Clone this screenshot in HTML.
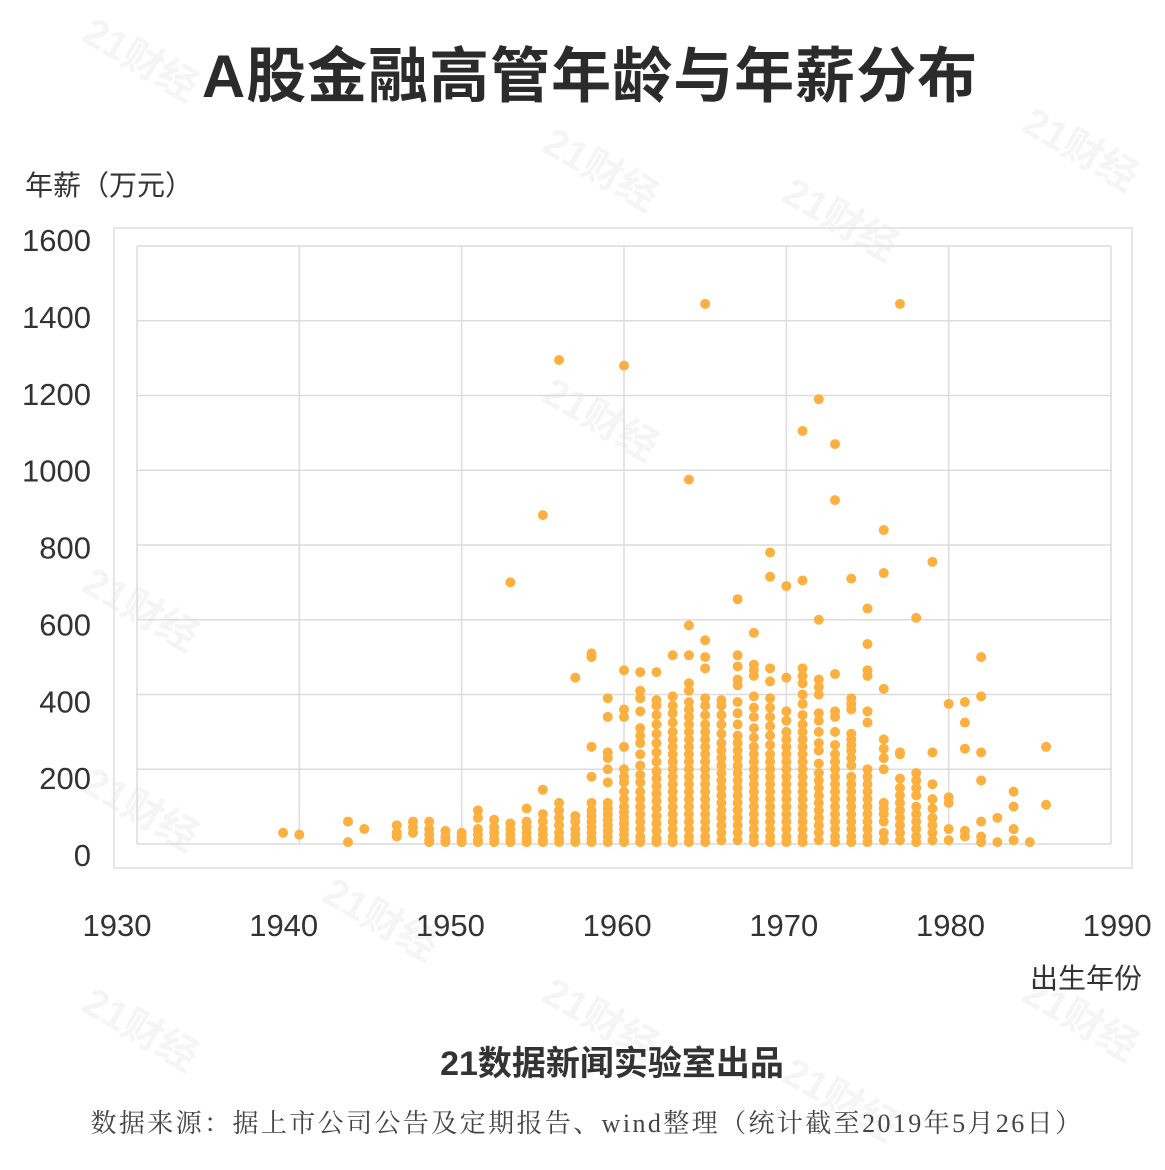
<!DOCTYPE html>
<html><head><meta charset="utf-8"><style>
html,body{margin:0;padding:0;background:#fff;}
svg{display:block;font-family:"Liberation Sans","Noto Sans CJK SC",sans-serif;}
</style></head><body>
<svg id="chart" width="1165" height="1170" viewBox="0 0 1165 1170">
<g id="wm" fill="#000" fill-opacity="0.04" font-size="40" font-weight="bold"></g>
<text x="590" y="97" text-anchor="middle" font-size="60" font-weight="bold" fill="#2b2b2b" letter-spacing="1">A股金融高管年龄与年薪分布</text>
<text x="25" y="195" font-size="28" fill="#333">年薪（万元）</text>
<rect x="114" y="228" width="1018" height="640" fill="none" stroke="#e6e6e6" stroke-width="2"/>
<g id="grid"></g>
<g id="ylabels"></g>
<g id="xlabels"></g>
<g id="dots"></g>
<text x="1142" y="988" text-anchor="end" font-size="28" fill="#333">出生年份</text>
<text x="612" y="1075" text-anchor="middle" font-size="34" font-weight="bold" fill="#333">21数据新闻实验室出品</text>
<text x="587" y="1132" text-anchor="middle" font-size="26" letter-spacing="2.4" fill="#444" font-family="'Liberation Serif','Noto Serif CJK SC',serif">数据来源：据上市公司公告及定期报告、wind整理（统计截至2019年5月26日）</text>
</svg>
<script>
const xTicks=[1930,1940,1950,1960,1970,1980,1990];
const yTicks=[0,200,400,600,800,1000,1200,1400,1600];
const years=[1939,1940,1943,1944,1946,1947,1948,1949,1950,1951,1952,1953,1954,1955,1956,1957,1958,1959,1960,1961,1962,1963,1964,1965,1966,1967,1968,1969,1970,1971,1972,1973,1974,1975,1976,1977,1978,1979,1980,1981,1982,1983,1984,1985,1986];
const salaries=[
[30],[25],[60,5],[40],[50,30,20],[60,45,30],[60,40,25,10,5],[35,20,10,5],[30,20,10,5],[90,70,40,25,10,5],[65,45,30,15,5],[700,55,40,25,10,5],[95,60,45,30,15,5],[880,145,80,60,40,25,10,5],[1295,110,90,70,50,30,15,5],[445,75,60,40,25,10,5],
[510,500,260,180,110,90,75,60,45,30,15,5],
[390,340,245,230,200,165,110,95,80,65,50,35,20,5],
[1280,465,360,340,260,200,180,165,140,120,100,85,70,55,40,25,10,5],
[460,410,390,355,310,290,270,240,210,185,165,140,120,100,80,60,40,20,5],
[460,385,370,345,320,295,270,245,220,195,175,155,135,115,95,75,55,35,15,5],
[505,395,370,350,325,300,280,260,240,220,200,180,160,140,120,100,80,60,40,20,5],
[975,585,505,430,410,380,360,340,320,300,280,260,240,220,200,180,160,140,120,100,80,60,40,20,5],
[1445,545,500,470,390,370,345,320,300,280,260,240,220,200,180,160,140,120,100,80,60,40,20,5],
[385,370,345,320,295,270,250,230,210,190,170,150,130,110,90,70,50,30,10],
[655,505,475,440,425,380,350,320,290,270,250,230,210,190,170,150,130,110,90,70,50,30,10],
[565,480,465,450,395,365,340,310,285,260,240,220,200,180,160,140,120,100,80,60,40,20,5],
[780,715,470,435,390,365,340,315,290,265,240,220,200,180,160,140,120,100,80,60,40,20,5],
[690,445,355,330,300,280,260,240,220,200,180,160,140,120,100,80,60,40,20,5],
[1105,705,470,450,430,400,375,345,320,300,280,260,240,220,200,180,160,140,120,100,80,60,40,20,5],
[1190,600,440,420,400,350,330,300,270,250,215,190,170,150,130,110,90,70,50,30,10],
[1070,920,455,355,340,300,265,240,220,200,180,160,140,120,100,80,60,40,20,5],
[710,390,375,360,295,280,265,250,230,210,180,160,140,120,100,80,60,40,20,5],
[630,535,465,450,355,325,200,180,160,140,120,100,80,60,40,20,5],
[840,725,415,280,255,230,200,110,95,80,60,30,10],
[1445,245,240,175,150,130,110,90,70,50,30,10],
[605,190,170,150,130,100,80,60,40,20,5],
[755,245,160,120,95,70,50,30,10],
[375,125,110,40,10],
[380,325,255,35,20],
[500,395,245,170,60,20,5],
[70,5],[140,100,40,10],[5],[260,105]
];
const NS='http://www.w3.org/2000/svg';
const X0=137,X1=1111,Y0=844,Y1=246;
function xs(v){return X0+(v-1930)/60*(X1-X0);}
function ys(v){return Y0-v/1600*(Y0-Y1);}
function mk(t,a,p){const e=document.createElementNS(NS,t);for(const k in a)e.setAttribute(k,a[k]);p.appendChild(e);return e;}
const grid=document.getElementById('grid');
xTicks.forEach(t=>{const l=mk('line',{x1:xs(t),x2:xs(t),y1:Y1,y2:Y0,stroke:'#dcdcdc','stroke-width':1.5},grid);

});
yTicks.forEach(t=>{const l=mk('line',{x1:X0,x2:X1,y1:ys(t),y2:ys(t),stroke:'#dcdcdc','stroke-width':1.5},grid);

});
const yl=document.getElementById('ylabels');
yTicks.forEach((t,i)=>{const e=mk('text',{x:91,y:240+(855-240)*(1-i/8)+11,'text-anchor':'end','font-size':31,fill:'#333'},yl);e.textContent=t;

});
const xl=document.getElementById('xlabels');
xTicks.forEach((t,i)=>{const e=mk('text',{x:117+i*166.7,y:936,'text-anchor':'middle','font-size':31,fill:'#333'},xl);e.textContent=t;

});
const dots=document.getElementById('dots');
years.forEach((yr,i)=>salaries[i].forEach(v=>{const c=mk('circle',{cx:xs(yr),cy:ys(v),r:5,fill:'#fbb040'},dots);

}));
const wm=document.getElementById('wm');
[[80,40],[540,150],[780,200],[1020,130],[80,590],[80,790],[320,900],[540,1000],[780,1080],[1020,1000],[80,1010],[540,400]].forEach(p=>{const e=mk('text',{x:p[0],y:p[1],transform:'rotate(30 '+p[0]+' '+p[1]+')'},wm);e.textContent='21财经';

});
</script>
</body></html>
